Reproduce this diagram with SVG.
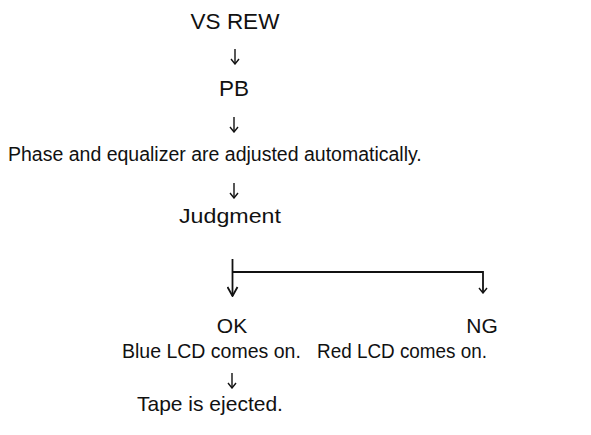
<svg xmlns="http://www.w3.org/2000/svg" width="591" height="435" viewBox="0 0 591 435">
<style>
text{font-family:"Liberation Sans",Arial,Helvetica,sans-serif;font-size:19.5px;fill:#111}
.c{text-anchor:middle}
.big{font-size:22.5px}
.ln{stroke:#111;stroke-width:1.4;fill:none}
.br{stroke:#111;stroke-width:1.8;fill:none}
</style>
<defs>
<marker id="ah" viewBox="0 0 10 10" refX="9" refY="5" markerWidth="10" markerHeight="10" markerUnits="userSpaceOnUse" orient="auto">
<path d="M4,1 L9,5 L4,9" fill="none" stroke="#111" stroke-width="1.4"/>
</marker>
<marker id="ahb" viewBox="0 0 14 12" refX="13" refY="6" markerWidth="14" markerHeight="12" markerUnits="userSpaceOnUse" orient="auto">
<path d="M4,1 L13,6 L4,11" fill="none" stroke="#111" stroke-width="1.8"/>
</marker>
</defs>
<g id="n-vsrew"><text class="c big" x="235" y="29">VS REW</text></g>
<g id="n-pb"><text class="c big" x="234" y="96">PB</text></g>
<g id="n-phase"><text x="8" y="161">Phase and equalizer are adjusted automatically.</text></g>
<g id="n-judgment"><text class="c" x="230" y="223" style="font-size:21px" textLength="102" lengthAdjust="spacingAndGlyphs">Judgment</text></g>
<g id="n-ok"><text class="c" x="232" y="333" style="font-size:21px">OK</text><text x="122" y="358">Blue LCD comes on.</text></g>
<g id="n-ng"><text class="c" x="482" y="333" style="font-size:21px">NG</text><text x="317" y="358" textLength="170" lengthAdjust="spacingAndGlyphs">Red LCD comes on.</text></g>
<g id="n-tape"><text x="137" y="411" style="font-size:21px">Tape is ejected.</text></g>
<g id="connectors">
<line class="ln" x1="235" y1="49" x2="235" y2="64" marker-end="url(#ah)"/>
<line class="ln" x1="234" y1="117" x2="234" y2="132" marker-end="url(#ah)"/>
<line class="ln" x1="234" y1="183" x2="234" y2="198" marker-end="url(#ah)"/>
<line class="br" x1="232.5" y1="259" x2="232.5" y2="296" marker-end="url(#ahb)"/>
<polyline class="br" points="232.5,272 483,272 483,293" marker-end="url(#ah)"/>
<line class="ln" x1="232" y1="373" x2="232" y2="388" marker-end="url(#ah)"/>
</g>
</svg>
